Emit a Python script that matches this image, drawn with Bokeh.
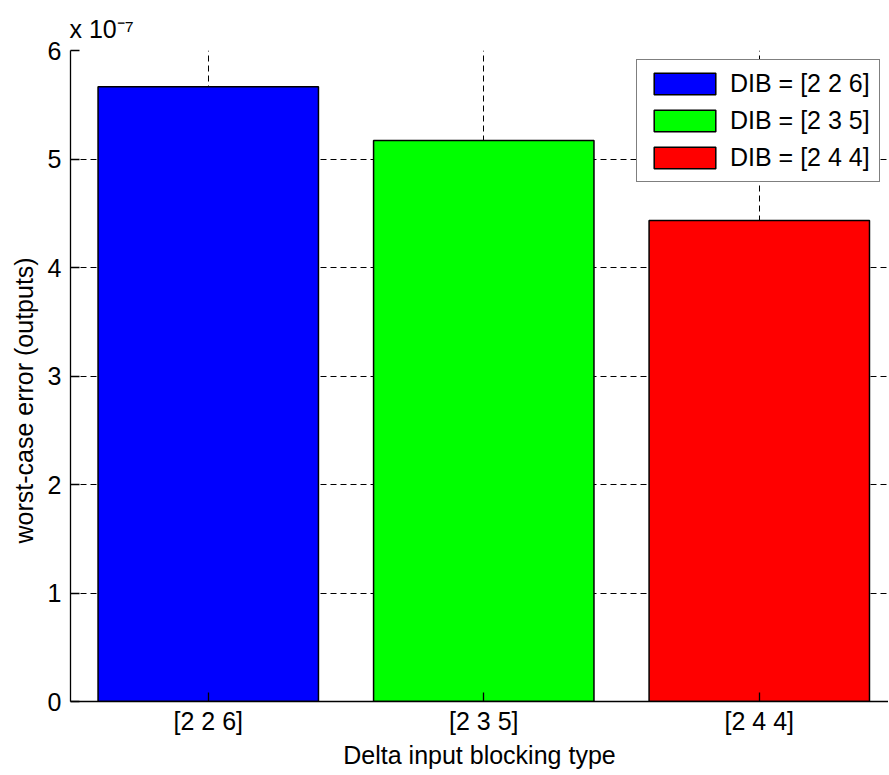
from bokeh.plotting import figure
from bokeh.models import (Range1d, FixedTicker, Title, CustomJSTickFormatter)
from bokeh.embed import file_html
from bokeh.resources import INLINE

# ---- data ----
categories = ["[2 2 6]", "[2 3 5]", "[2 4 4]"]
legend_labels = ["DIB = [2 2 6]", "DIB = [2 3 5]", "DIB = [2 4 4]"]
errors = [5.665e-7, 5.17e-7, 4.433e-7]
colors = ["#0000FF", "#00FF00", "#FF0000"]
y_tick_values = [0, 1, 2, 3, 4, 5, 6]
scale = 1e-7
exponent_text = "x 10\u207b\u2077"
x_title = "Delta input blocking type"
y_title = "worst-case error (outputs)"

FONT = "Liberation Sans"
FS = "25px"

xs = [i + 1 for i in range(len(categories))]

p = figure(width=888, height=773, output_backend="svg", toolbar_location=None,
           x_range=Range1d(0.5, 3.469), y_range=Range1d(0, 6 * scale),
           min_border_left=70, min_border_right=0, min_border_top=50,
           min_border_bottom=72)
p.outline_line_color = None
p.background_fill_color = "white"
p.border_fill_color = "white"

for x, v, c, lab in zip(xs, errors, colors, legend_labels):
    p.vbar(x=[x], top=[v], width=0.8, fill_color=c, line_color="black",
           line_width=1.5, legend_label=lab)

# axes
p.xaxis.ticker = FixedTicker(ticks=xs)
p.xaxis.major_label_overrides = {x: c for x, c in zip(xs, categories)}
p.yaxis.ticker = FixedTicker(ticks=[t * scale for t in y_tick_values])
p.yaxis.formatter = CustomJSTickFormatter(args=dict(s=scale),
                                          code="return (tick / s).toFixed(0);")
for ax in (p.xaxis[0], p.yaxis[0]):
    ax.major_tick_in = 9
    ax.major_tick_out = 0
    ax.minor_tick_line_color = None
    ax.axis_line_color = "black"
    ax.axis_line_width = 1.3
    ax.major_tick_line_color = "black"
    ax.major_tick_line_width = 1.3
    ax.major_label_text_font = FONT
    ax.major_label_text_font_size = FS
    ax.major_label_text_color = "black"
p.yaxis.major_label_standoff = 9
p.xaxis.major_label_standoff = 5
p.xaxis.axis_label = x_title
p.xaxis.axis_label_text_font = FONT
p.xaxis.axis_label_text_font_size = FS
p.xaxis.axis_label_text_font_style = "normal"
p.xaxis.axis_label_text_color = "black"
p.xaxis.axis_label_standoff = 3

# grid
for g in (p.xgrid[0], p.ygrid[0]):
    g.grid_line_color = "black"
    g.grid_line_dash = "6 4"
    g.grid_line_width = 1
    g.grid_line_alpha = 1

# y title (as a side title so it can be shifted) and exponent
p.add_layout(Title(text=y_title, align="left", offset=158, standoff=14,
                   text_font=FONT, text_font_size=FS, text_font_style="normal",
                   text_color="black"), "left")
p.add_layout(Title(text=exponent_text, align="left", offset=-1, standoff=16,
                   text_font=FONT, text_font_size=FS, text_font_style="normal",
                   text_color="black"), "above")

# legend
lg = p.legend[0]
lg.location = (566, 519)
lg.margin = 0
lg.padding = 9
lg.spacing = 8
lg.glyph_width = 77
lg.glyph_height = 27
lg.label_height = 27
lg.label_standoff = 7
lg.label_text_font = FONT
lg.label_text_font_size = FS
lg.label_text_color = "black"
lg.border_line_color = "black"
lg.border_line_width = 1.3
lg.background_fill_color = "white"
lg.background_fill_alpha = 1

open("out.html", "w").write(file_html(p, INLINE))
